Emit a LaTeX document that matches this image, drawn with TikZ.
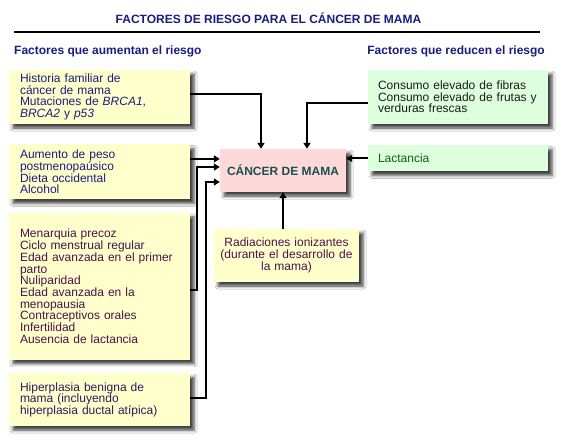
\documentclass[tikz,border=0pt]{standalone}
\usepackage{fontspec}
\setmainfont{Liberation Sans}
\usetikzlibrary{arrows.meta,positioning,shadows.blur}
\definecolor{RiskYellow}{HTML}{FFFFCC}
\definecolor{RiskPink}{HTML}{FFD9D9}
\definecolor{RiskGreen}{HTML}{DDFFDD}
\definecolor{RiskNavy}{HTML}{1C1C80}
\definecolor{RiskPlum}{HTML}{4A1248}
\definecolor{RiskInk}{HTML}{2A1A5E}
\definecolor{RiskTeal}{HTML}{1A5050}
\definecolor{RiskLeaf}{HTML}{106010}
\definecolor{RiskCoal}{HTML}{1A1A1A}

\begin{document}
\begin{tikzpicture}[x=1pt,y=-1pt,node distance=13pt]
    \tikzset{boxbase/.style={draw=none,inner xsep=11pt,inner ysep=3pt,align=left,
      font=\fontsize{12}{11.7}\selectfont,
      blur shadow={shadow xshift=4pt,shadow yshift=-4pt,shadow blur radius=3pt,shadow opacity=75}},
      riskbox/.style={boxbase,fill=RiskYellow,text width=159pt},
      guardbox/.style={boxbase,fill=RiskGreen,inner xsep=10pt,text width=160pt},
      headline/.style={inner sep=0pt,text=RiskNavy,font=\bfseries\fontsize{12}{14}\selectfont},
      feed/.style={line width=2pt,-{Triangle[length=6pt,width=7pt]}}}
    \useasboundingbox (0,0) rectangle (567,447);
    \fill[white] (0,0) rectangle (567,447);
    % title and column heads
    \node[headline] (title) at (268.5,18) {FACTORES DE RIESGO PARA EL CÁNCER DE MAMA};
    \draw[line width=2.5pt] (14,32) -- (540,32);
    \node[headline,anchor=west] (uphead) at (14,51) {Factores que aumentan el riesgo};
    \node[headline,anchor=east] (downhead) at (545,51) {Factores que reducen el riesgo};
    % risk factors
    \node[riskbox,text=RiskNavy,minimum height=54pt] (heredity) at (99.5,97)
      {Historia familiar de\\cáncer de mama\\Mutaciones de \textit{BRCA1},\\\textit{BRCA2} y \textit{p53}};
    \node[riskbox,text=RiskNavy,minimum height=55pt,below=20pt of heredity] (lifestyle)
      {Aumento de peso\\postmenopaúsico\\Dieta occidental\\Alcohol};
    \node[riskbox,text=RiskPlum,minimum height=147pt,below=of lifestyle] (hormones)
      {Menarquia precoz\\Ciclo menstrual regular\\Edad avanzada en el primer\\parto\\Nuliparidad\\Edad avanzada en la\\menopausia\\Contraceptivos orales\\Infertilidad\\Ausencia de lactancia};
    \node[riskbox,text=RiskInk,minimum height=53pt,below=of hormones] (hyperplasia)
      {Hiperplasia benigna de\\mama (incluyendo\\hiperplasia ductal atípica)};
    \node[boxbase,fill=RiskPink,inner xsep=4pt,minimum width=126pt,minimum height=43pt,align=center,
      text=RiskTeal,font=\bfseries\fontsize{12}{14}\selectfont] (cancer) at (283,170.5) {CÁNCER DE MAMA};
    \node[boxbase,fill=RiskYellow,inner xsep=6pt,text width=133pt,minimum height=53pt,align=center,
      text=RiskPlum] (radiation) at (286.5,255.5)
      {Radiaciones ionizantes\\(durante el desarrollo de\\la mama)};
    % protective factors
    \node[guardbox,text=RiskCoal,minimum height=54pt] (fibre) at (458,97)
      {Consumo elevado de fibras\\Consumo elevado de frutas y\\verduras frescas};
    \node[guardbox,text=RiskLeaf,minimum height=26pt,below=21pt of fibre] (lactation) {Lactancia};
    % connectors
    \draw[feed] ([yshift=3pt]heredity.east) -| ([xshift=-22pt]cancer.north);
    \draw[feed] ([yshift=-5.7pt]fibre.west) -| ([xshift=24pt]cancer.north);
    \draw[feed] (lactation.west) -- (lactation.west -| cancer.east);
    \coordinate (lifeout) at ([yshift=13pt]lifestyle.east);
    \draw[feed] (lifeout) -- (lifeout -| cancer.west);
    \draw[feed] ([yshift=-3.5pt]hormones.east) -- ++(7pt,0) |- ([yshift=3.5pt]cancer.west);
    \draw[feed] ([yshift=1.5pt]hyperplasia.east) -- ++(16pt,0) |- ([yshift=-11.5pt]cancer.west);
    \draw[feed] (radiation.north -| cancer.south) -- (cancer.south);
  \end{tikzpicture}
\end{document}
